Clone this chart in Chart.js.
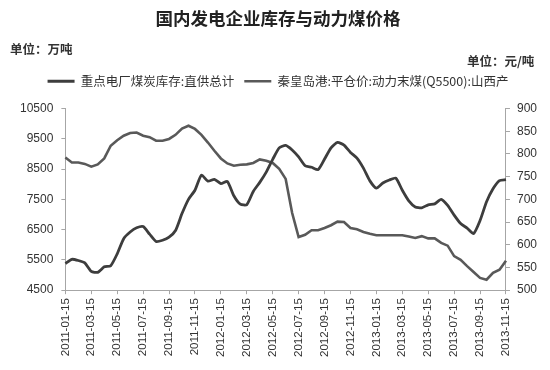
<!DOCTYPE html>
<html>
<head>
<meta charset="utf-8">
<script src="https://cdn.jsdelivr.net/npm/chart.js@4.4.1/dist/chart.umd.min.js"></script>
<style>
  body { margin: 0; background: #fff; }
  #wrap { position: relative; width: 550px; height: 370px; }
  .unit { position: absolute; font: bold 12.5px "Noto Sans CJK SC", sans-serif; color: #333; }
</style>
</head>
<body>
<div id="wrap">
  <canvas id="chart" width="550" height="370"></canvas>
  <div class="unit" style="left:10px;top:39px">单位：万吨</div>
  <div class="unit" style="left:467px;top:51px">单位：元/吨</div>
</div>
<script>
// semi-monthly dates, 2011-01-15 .. 2013-11-15
const dates = [
  '2011-01-15','2011-01-31','2011-02-15','2011-02-28','2011-03-15','2011-03-31',
  '2011-04-15','2011-04-30','2011-05-15','2011-05-31','2011-06-15','2011-06-30',
  '2011-07-15','2011-07-31','2011-08-15','2011-08-31','2011-09-15','2011-09-30',
  '2011-10-15','2011-10-31','2011-11-15','2011-11-30','2011-12-15','2011-12-31',
  '2012-01-15','2012-01-31','2012-02-15','2012-02-29','2012-03-15','2012-03-31',
  '2012-04-15','2012-04-30','2012-05-15','2012-05-31','2012-06-15','2012-06-30',
  '2012-07-15','2012-07-31','2012-08-15','2012-08-31','2012-09-15','2012-09-30',
  '2012-10-15','2012-10-31','2012-11-15','2012-11-30','2012-12-15','2012-12-31',
  '2013-01-15','2013-01-31','2013-02-15','2013-02-28','2013-03-15','2013-03-31',
  '2013-04-15','2013-04-30','2013-05-15','2013-05-31','2013-06-15','2013-06-30',
  '2013-07-15','2013-07-31','2013-08-15','2013-08-31','2013-09-15','2013-09-30',
  '2013-10-15','2013-10-31','2013-11-15'
];

// 重点电厂煤炭库存 (万吨)
const stock = [
  5380, 5520, 5480, 5400, 5120, 5090, 5270, 5310, 5700, 6200, 6420, 6560,
  6600, 6350, 6110, 6150, 6250, 6470, 7030, 7500, 7800, 8300, 8100, 8160,
  8020, 8090, 7620, 7340, 7325, 7760, 8060, 8400, 8820, 9200, 9280, 9130,
  8900, 8610, 8560, 8480, 8830, 9200, 9380, 9290, 9050, 8860, 8530, 8110,
  7870, 8040, 8140, 8200, 7800, 7450, 7250, 7220, 7320, 7350, 7500, 7300,
  6980, 6700, 6550, 6370, 6800, 7420, 7850, 8120, 8150
];

// 秦皇岛港 动力末煤 Q5500 平仓价 (元/吨)
const price = [
  792, 781, 781, 778, 772, 777, 790, 818, 830, 840, 846, 847,
  840, 837, 829, 829, 833, 842, 856, 862, 855, 842, 825, 807,
  790, 779, 774, 776, 777, 780, 788, 785, 780, 767, 745, 670,
  617, 622, 632, 632, 637, 643, 651, 650, 637, 634, 628, 624,
  621, 621, 621, 621, 621, 618, 615, 619, 614, 614, 604, 598,
  575, 567, 553, 540, 527, 523, 538, 545, 565
];

const leftTicks = [4500, 10500, 1000];
const rightTicks = [500, 900, 50];

const axisColor = '#a6a6a6';
const tickFont = { family: '"Liberation Sans", Arial, sans-serif', size: 12 };

// extra room between legend and plot
const legendGap = {
  id: 'legendGap',
  beforeInit(chart) {
    const fit = chart.legend.fit;
    chart.legend.fit = function () {
      fit.bind(chart.legend)();
      this.height += 11;
    };
  }
};

new Chart(document.getElementById('chart'), {
  type: 'line',
  data: {
    labels: dates,
    datasets: [{
      label: '重点电厂煤炭库存:直供总计',
      data: stock,
      yAxisID: 'y',
      borderColor: '#3d3d3d',
      backgroundColor: '#3d3d3d',
      borderWidth: 2.8,
      pointRadius: 0,
      tension: 0.2
    }, {
      label: '秦皇岛港:平仓价:动力末煤(Q5500):山西产',
      data: price,
      yAxisID: 'y2',
      borderColor: '#595959',
      backgroundColor: '#595959',
      borderWidth: 2.6,
      pointRadius: 0,
      tension: 0
    }]
  },
  options: {
    responsive: false,
    animation: false,
    devicePixelRatio: 1,
    layout: { padding: { left: 12, right: 6, top: 0, bottom: 9 } },
    plugins: {
      tooltip: { enabled: false },
      title: {
        display: true,
        text: '国内发电企业库存与动力煤价格',
        color: '#222',
        font: { family: '"Noto Sans CJK SC", sans-serif', size: 17.5, weight: 'bold' },
        padding: { top: 8, bottom: 36 }
      },
      legend: {
        display: true,
        labels: {
          color: '#333',
          font: { family: '"Noto Sans CJK SC", sans-serif', size: 12.5 },
          usePointStyle: true,
          pointStyle: 'line',
          pointStyleWidth: 27,
          boxWidth: 27,
          padding: 10
        }
      }
    },
    scales: {
      x: {
        type: 'category',
        offset: false,
        border: { color: axisColor },
        grid: { drawOnChartArea: false, drawTicks: true, tickLength: 4, color: axisColor },
        ticks: {
          autoSkip: false,
          minRotation: 90,
          maxRotation: 90,
          color: '#333',
          font: { family: tickFont.family, size: 11.5 },
          padding: 4,
          callback: function (v, i) { return i % 4 === 0 ? dates[i] : null; }
        }
      },
      y: {
        position: 'left',
        min: leftTicks[0],
        max: leftTicks[1],
        border: { color: axisColor },
        grid: { drawOnChartArea: false, tickLength: 4, color: axisColor },
        ticks: {
          stepSize: leftTicks[2], color: '#333', font: tickFont, padding: 8,
          callback: v => String(v)
        }
      },
      y2: {
        position: 'right',
        min: rightTicks[0],
        max: rightTicks[1],
        border: { color: axisColor },
        grid: { drawOnChartArea: false, tickLength: 4, color: axisColor },
        ticks: {
          stepSize: rightTicks[2], color: '#333', font: tickFont, padding: 7,
          callback: v => String(v)
        }
      }
    }
  },
  plugins: [legendGap]
});
</script>
</body>
</html>
